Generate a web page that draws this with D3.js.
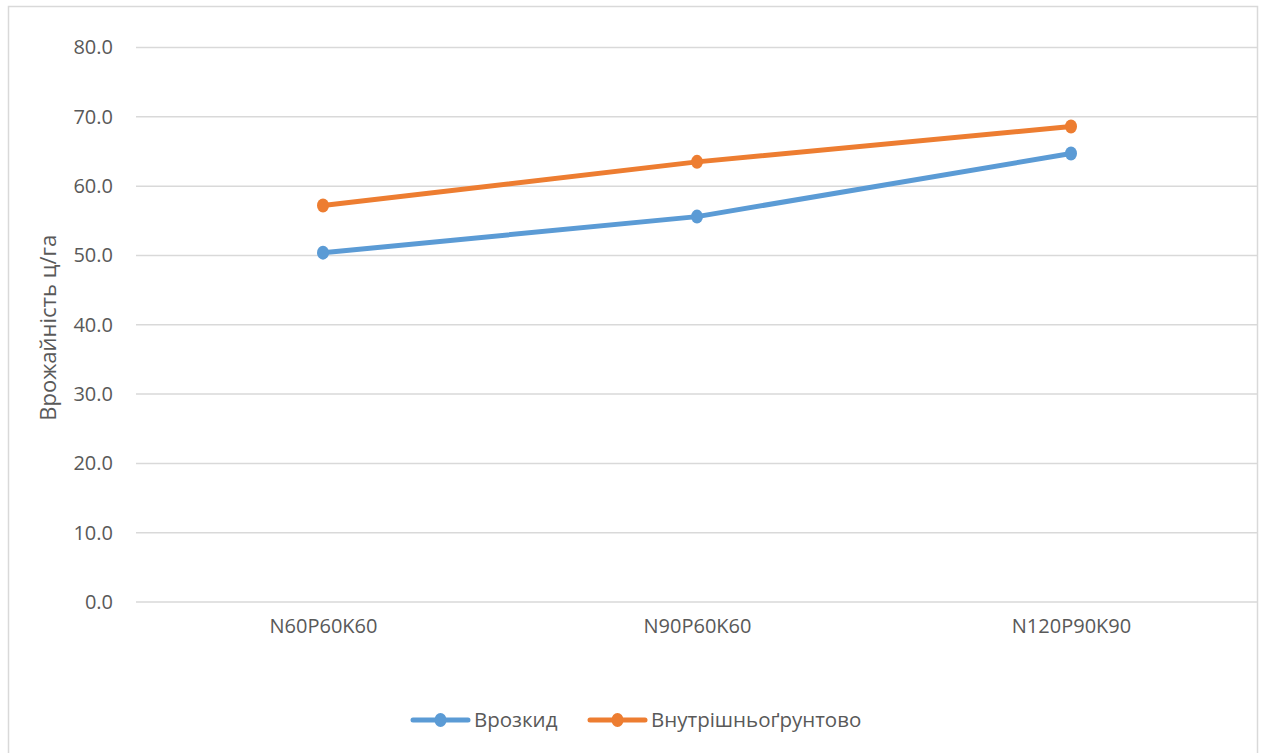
<!DOCTYPE html>
<html>
<head>
<meta charset="utf-8">
<script src="https://cdn.jsdelivr.net/npm/d3@7/dist/d3.min.js"></script>
<style>
  html, body { margin: 0; padding: 0; background: #fff; }
  svg { display: block; font-family: "Open Sans", "Noto Sans", sans-serif; }
</style>
</head>
<body>
<svg id="chart" width="1261" height="753"></svg>
<script>
// Yield by fertiliser rate and application method
const categories = ["N60P60K60", "N90P60K60", "N120P90K90"];
const seriesNames = ["Врозкид", "Внутрішньоґрунтово"];
const broadcastValues = [50.4, 55.6, 64.7];
const inSoilValues = [57.2, 63.5, 68.6];
const yTicks = [0, 10, 20, 30, 40, 50, 60, 70, 80];
const yTitle = "Врожайність ц/га";
const colors = ["#5B9BD5", "#ED7D31"];

const series = [
  { name: seriesNames[0], values: broadcastValues, color: colors[0] },
  { name: seriesNames[1], values: inSoilValues, color: colors[1] }
];

const svg = d3.select("#chart");
const W = 1261, H = 753;
const plot = { left: 136, right: 1258, top: 47.5, bottom: 602 };
const textColor = "#595959";
const gridColor = "#d9d9d9";

// chart frame
svg.append("rect")
  .attr("x", 8.5).attr("y", 6.5)
  .attr("width", 1249).attr("height", H + 10)
  .attr("fill", "#fff")
  .attr("stroke", gridColor).attr("stroke-width", 1.5);

const x = d3.scalePoint().domain(categories).range([plot.left, plot.right]).padding(0.5);
const y = d3.scaleLinear().domain([0, 80]).range([plot.bottom, plot.top]);

// gridlines
svg.append("g")
  .selectAll("line")
  .data(yTicks)
  .join("line")
  .attr("x1", plot.left).attr("x2", plot.right)
  .attr("y1", d => y(d)).attr("y2", d => y(d))
  .attr("stroke", gridColor).attr("stroke-width", 1.5);

// y axis labels
const yAxis = d3.axisLeft(y).tickValues(yTicks).tickFormat(d3.format(".1f")).tickSize(0).tickPadding(23);
const gy = svg.append("g").attr("transform", `translate(${plot.left},0)`).call(yAxis);
gy.select(".domain").remove();
gy.selectAll("text").attr("fill", textColor).style("font-size", "20px")
  .style("font-family", "'Open Sans', sans-serif");

// x axis labels
const xAxis = d3.axisBottom(x).tickSize(0).tickPadding(17);
const gx = svg.append("g").attr("transform", `translate(0,${plot.bottom})`).call(xAxis);
gx.select(".domain").remove();
gx.selectAll("text").attr("fill", textColor).style("font-size", "20px")
  .style("font-family", "'Open Sans', sans-serif");

// y axis title
svg.append("text")
  .attr("transform", `translate(56,${(plot.top + plot.bottom) / 2 + 3}) rotate(-90)`)
  .attr("text-anchor", "middle")
  .attr("fill", textColor)
  .style("font-size", "22px")
  .text(yTitle);

// lines and markers
const line = d3.line().x((d, i) => x(categories[i])).y(d => y(d));
const gs = svg.append("g").selectAll("g").data(series).join("g");
gs.append("path")
  .attr("d", d => line(d.values))
  .attr("fill", "none")
  .attr("stroke", d => d.color)
  .attr("stroke-width", 5)
  .attr("stroke-linejoin", "round");
gs.selectAll("ellipse")
  .data(d => d.values.map((v, i) => ({ v, i, color: d.color })))
  .join("ellipse")
  .attr("cx", d => x(categories[d.i]))
  .attr("cy", d => y(d.v))
  .attr("rx", 6).attr("ry", 7)
  .attr("fill", d => d.color);

// legend
const legendY = 720;
const legendItems = [
  { name: series[0].name, color: series[0].color, x0: 413 },
  { name: series[1].name, color: series[1].color, x0: 590 }
];
const lg = svg.append("g").selectAll("g").data(legendItems).join("g")
  .attr("transform", d => `translate(${d.x0},${legendY})`);
lg.append("line")
  .attr("x1", 0).attr("x2", 55).attr("y1", 0).attr("y2", 0)
  .attr("stroke", d => d.color).attr("stroke-width", 5).attr("stroke-linecap", "round");
lg.append("ellipse").attr("cx", 27.5).attr("cy", 0).attr("rx", 6).attr("ry", 7)
  .attr("fill", d => d.color);
lg.append("text")
  .attr("x", 61).attr("y", 0).attr("dy", "0.35em")
  .attr("fill", textColor)
  .style("font-size", "20.5px")
  .text(d => d.name);
</script>
</body>
</html>
